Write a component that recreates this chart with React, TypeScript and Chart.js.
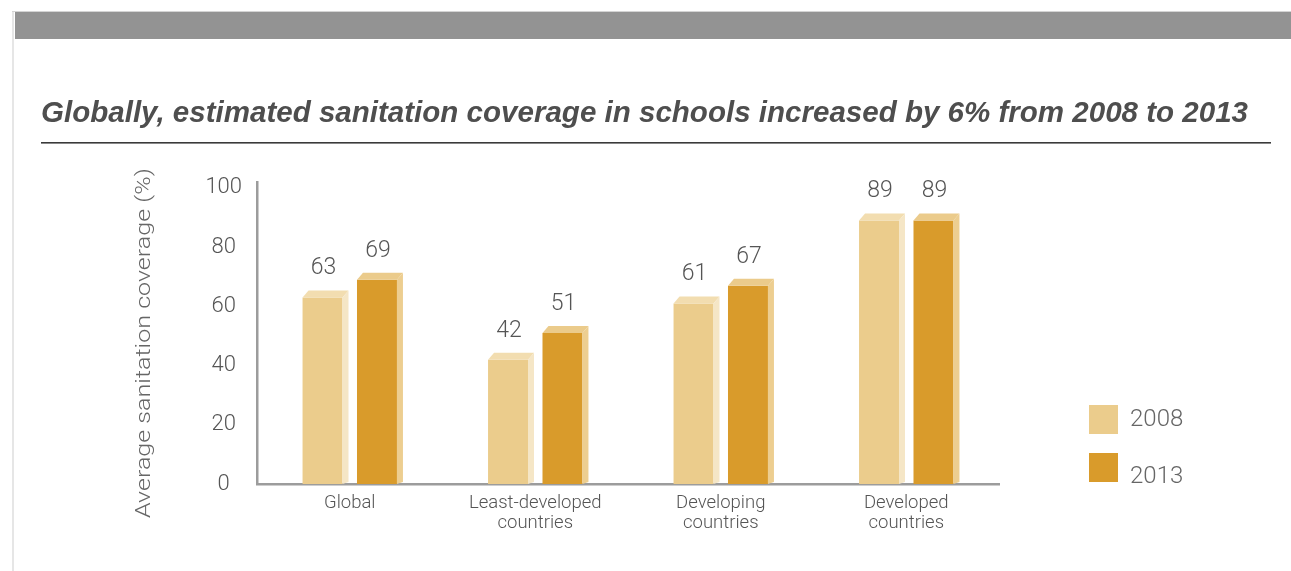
import React, { useEffect, useRef } from "react";
import { Chart, registerables } from "chart.js";

Chart.register(...registerables);

const categories: string[][] = [
  ["Global"],
  ["Least-developed", "countries"],
  ["Developing", "countries"],
  ["Developed", "countries"],
];
const seriesNames = ["2008", "2013"];
const values2008 = [63, 42, 61, 89];
const values2013 = [69, 51, 67, 89];
const yTickValues = [0, 20, 40, 60, 80, 100];
const titleText =
  "Globally, estimated sanitation coverage in schools increased by 6% from 2008 to 2013";
const yAxisTitle = "Average sanitation coverage (%)";

const frontColors = ["#EBCC8C", "#D99B2B"];
const topColors = ["#F2DDB0", "#EBCB8B"];
const sideColors = ["#F5E6C6", "#EDCE90"];

const LIGHT = '"Roboto", "Liberation Sans", sans-serif';

const depthX = 6;
const depthY = 7;

const decoPlugin = {
  id: "deco",
  beforeDraw(chart: any) {
    const ctx = chart.ctx as CanvasRenderingContext2D;
    ctx.save();
    ctx.fillStyle = "#ffffff";
    ctx.fillRect(0, 0, chart.width, chart.height);
    ctx.fillStyle = "#e6e6e6";
    ctx.fillRect(12, 11, 2, chart.height - 11);
    ctx.fillStyle = "#d4d4d4";
    ctx.fillRect(12, 11, chart.width - 12, 1);
    ctx.fillStyle = "#939393";
    ctx.fillRect(15, 12, chart.width - 15, 27);
    ctx.restore();

    ctx.save();
    ctx.font = 'italic bold 30px "Liberation Sans", Arial, sans-serif';
    const w = ctx.measureText(titleText).width;
    ctx.translate(41, 122);
    ctx.scale(1207 / w, 1);
    ctx.fillStyle = "#4e4e4e";
    ctx.textBaseline = "alphabetic";
    ctx.textAlign = "left";
    ctx.fillText(titleText, 0, 0);
    ctx.restore();

    ctx.save();
    ctx.fillStyle = "#3a3a3a";
    ctx.fillRect(41, 142, 1230, 1.6);
    ctx.restore();

    ctx.save();
    ctx.font = `300 21px ${LIGHT}`;
    const tw = ctx.measureText(yAxisTitle).width;
    ctx.translate(145, 343);
    ctx.rotate(-Math.PI / 2);
    ctx.scale(350 / tw, 1);
    ctx.fillStyle = "#666666";
    ctx.textAlign = "center";
    ctx.textBaseline = "middle";
    ctx.fillText(yAxisTitle, 0, 0);
    ctx.restore();
  },
  afterDatasetsDraw(chart: any) {
    const ctx = chart.ctx as CanvasRenderingContext2D;
    chart.data.datasets.forEach((ds: any, di: number) => {
      const meta = chart.getDatasetMeta(di);
      meta.data.forEach((bar: any, i: number) => {
        const { x, y, base, width } = bar.getProps(["x", "y", "base", "width"], true);
        const left = x - width / 2;
        const right = x + width / 2;
        ctx.save();
        ctx.fillStyle = topColors[di];
        ctx.beginPath();
        ctx.moveTo(left, y);
        ctx.lineTo(left + depthX, y - depthY);
        ctx.lineTo(right + depthX, y - depthY);
        ctx.lineTo(right, y);
        ctx.closePath();
        ctx.fill();
        ctx.fillStyle = sideColors[di];
        ctx.beginPath();
        ctx.moveTo(right, y);
        ctx.lineTo(right + depthX, y - depthY);
        ctx.lineTo(right + depthX, base - 2);
        ctx.lineTo(right, base);
        ctx.closePath();
        ctx.fill();
        ctx.font = `300 23px ${LIGHT}`;
        ctx.fillStyle = "#555555";
        ctx.textAlign = "center";
        ctx.textBaseline = "alphabetic";
        ctx.fillText(String(ds.data[i]), x + 1, y - 23);
        ctx.restore();
      });
    });
  },
  afterDraw(chart: any) {
    const ctx = chart.ctx as CanvasRenderingContext2D;
    ctx.save();
    const ys = [405, 453];
    const ty = [420, 477];
    seriesNames.forEach((name, i) => {
      ctx.fillStyle = frontColors[i];
      ctx.fillRect(1089, ys[i], 29, 29);
      ctx.font = `300 24px ${LIGHT}`;
      ctx.fillStyle = "#666666";
      ctx.textAlign = "left";
      ctx.textBaseline = "middle";
      ctx.fillText(name, 1130, ty[i]);
    });
    ctx.restore();
  },
};

export default function App() {
  const canvasRef = useRef<HTMLCanvasElement | null>(null);

  useEffect(() => {
    if (!canvasRef.current) return;
    const chart = new Chart(canvasRef.current, {
      type: "bar",
      data: {
        labels: categories,
        datasets: [
          {
            label: seriesNames[0],
            data: values2008,
            backgroundColor: frontColors[0],
            borderWidth: 0,
            barPercentage: 0.734,
            categoryPercentage: 0.587,
          },
          {
            label: seriesNames[1],
            data: values2013,
            backgroundColor: frontColors[1],
            borderWidth: 0,
            barPercentage: 0.734,
            categoryPercentage: 0.587,
          },
        ],
      },
      options: {
        responsive: false,
        animation: false,
        devicePixelRatio: 1,
        layout: { padding: { top: 182, right: 292, bottom: 0, left: 0 } },
        plugins: {
          legend: { display: false },
          tooltip: { enabled: false },
          title: { display: false },
        },
        scales: {
          x: {
            type: "category",
            grid: { display: false, drawTicks: false },
            border: { display: true, color: "#9c9c9c", width: 2.5 },
            ticks: {
              font: { family: LIGHT, size: 18.5, weight: "300", lineHeight: 1.05 },
              color: "#555555",
              padding: 10,
              maxRotation: 0,
              autoSkip: false,
            },
            afterFit: (scale: any) => {
              scale.height = 87;
            },
          },
          y: {
            type: "linear",
            min: 0,
            max: 102,
            grid: { display: false, drawTicks: false },
            border: { display: true, color: "#9c9c9c", width: 2.5 },
            ticks: {
              stepSize: 20,
              font: { family: LIGHT, size: 22, weight: "300" },
              color: "#555555",
              padding: 15,
              crossAlign: "center",
            },
            afterBuildTicks: (scale: any) => {
              scale.ticks = yTickValues.map((v) => ({ value: v }));
            },
            afterFit: (scale: any) => {
              scale.width = 257;
            },
          },
        },
      },
      plugins: [decoPlugin],
    } as any);
    return () => chart.destroy();
  }, []);

  return (
    <div style={{ position: "absolute", left: 0, top: 0, width: 1291, height: 571, background: "#fff" }}>
      <canvas ref={canvasRef} width={1291} height={571} style={{ display: "block", width: 1291, height: 571 }} />
    </div>
  );
}
